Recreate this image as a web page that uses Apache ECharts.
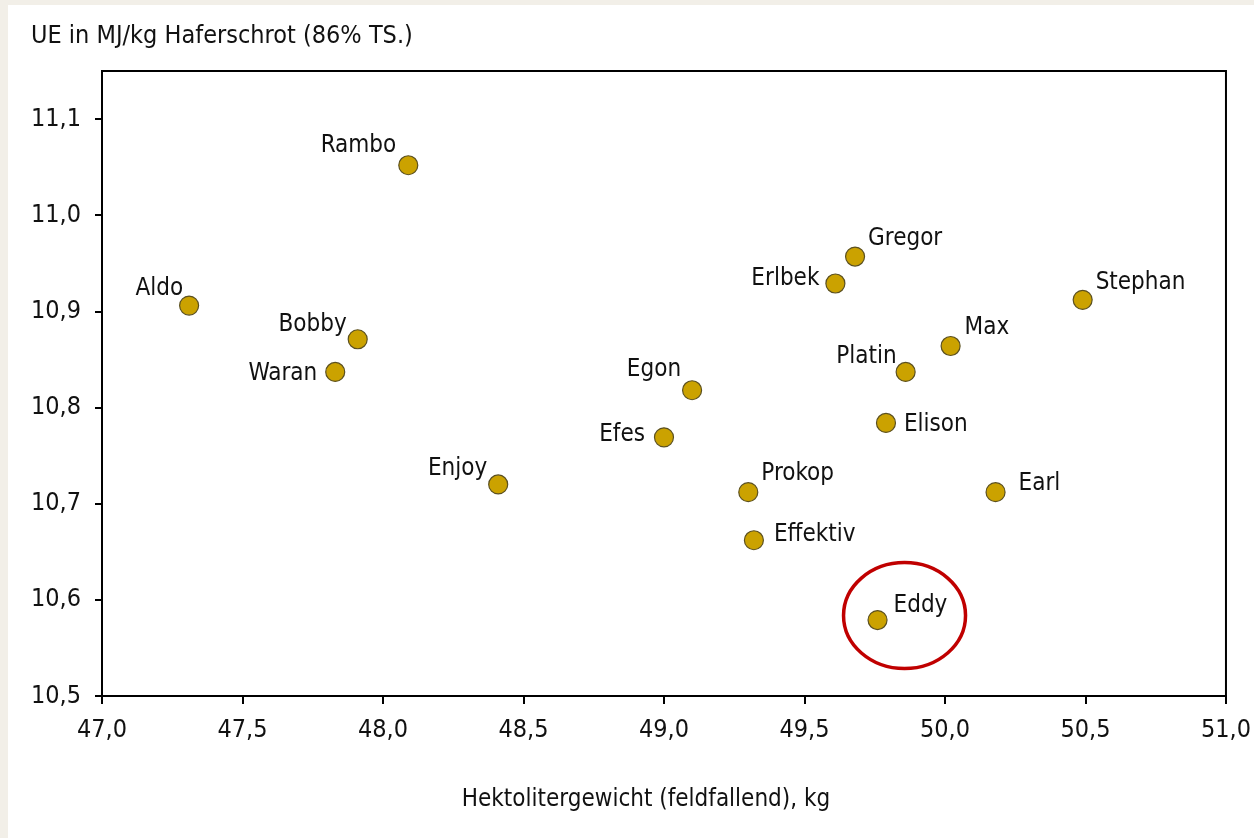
<!DOCTYPE html>
<html>
<head>
<meta charset="utf-8">
<script src="https://cdn.jsdelivr.net/npm/echarts@6/dist/echarts.min.js"></script>
<style>
	html, body { margin: 0; padding: 0; background: #f2efe8; }
	#chart { position: absolute; left: 8px; top: 5px; width: 1246px; height: 833px; background: #fff; }
</style>
</head>
<body>
<div id="chart"></div>
<script>
// Hafer-Sorten: Hektolitergewicht vs. UE
var names = ['Aldo', 'Rambo', 'Bobby', 'Waran', 'Enjoy', 'Efes', 'Egon', 'Prokop', 'Effektiv',
	'Eddy', 'Erlbek', 'Gregor', 'Platin', 'Max', 'Elison', 'Stephan', 'Earl']
var hlGewicht = [47.31, 48.09, 47.91, 47.83, 48.41, 49.00, 49.10, 49.30, 49.32,
	49.76, 49.61, 49.68, 49.86, 50.02, 49.79, 50.49, 50.18]
var ueWerte = [10.906, 11.052, 10.871, 10.837, 10.720, 10.769, 10.818, 10.712, 10.662,
	10.579, 10.929, 10.957, 10.837, 10.864, 10.784, 10.912, 10.712]
var xTicks = [47.0, 47.5, 48.0, 48.5, 49.0, 49.5, 50.0, 50.5, 51.0]
var yTicks = [10.5, 10.6, 10.7, 10.8, 10.9, 11.0, 11.1]

// where each label sits relative to its dot: side, dx, dy
var labelPlace = {
	Aldo: ['l', -6, -17], Rambo: ['l', -12, -19], Bobby: ['l', -11, -15], Waran: ['l', -18, 2],
	Enjoy: ['l', -11, -16], Efes: ['l', -19, -3], Egon: ['l', -11, -20], Prokop: ['r', 13, -18],
	Effektiv: ['r', 20, -5], Eddy: ['r', 16, -14], Erlbek: ['l', -16, -5], Gregor: ['r', 13, -18],
	Platin: ['l', -9, -15], Max: ['r', 14, -18], Elison: ['r', 18, 2], Stephan: ['r', 13, -17],
	Earl: ['r', 23, -8]
}

var FONT = '"DejaVu Sans Condensed", "DejaVu Sans", sans-serif'
var INK = '#111'

function komma (v) {
	return v.toFixed(1).replace('.', ',')
}

var points = names.map(function (n, i) {
	var p = labelPlace[n]
	return {
		name: n,
		value: [hlGewicht[i], ueWerte[i]],
		label: {
			position: 'inside',
			align: p[0] === 'l' ? 'right' : 'left',
			verticalAlign: 'middle',
			offset: [p[1], p[2]]
		}
	}
})

var chart = echarts.init(document.getElementById('chart'))

chart.setOption({
	animation: false,
	textStyle: { fontFamily: FONT },
	title: {
		text: 'UE in MJ/kg Haferschrot (86% TS.)',
		left: 23,
		top: 19,
		padding: 0,
		textStyle: { fontFamily: FONT, fontSize: 25, fontWeight: 'normal', color: INK }
	},
	grid: {
		left: 94,
		right: 28,
		top: 66,
		bottom: 142,
		show: true,
		borderColor: '#000',
		borderWidth: 2
	},
	xAxis: {
		type: 'value',
		min: 47,
		max: 51,
		interval: 0.5,
		name: 'Hektolitergewicht (feldfallend), kg',
		nameLocation: 'middle',
		nameGap: 92,
		nameTextStyle: { fontFamily: FONT, fontSize: 24, color: INK, padding: [0, 36, 0, 0] },
		axisLine: { lineStyle: { color: '#000', width: 2 } },
		axisTick: { show: true, length: 8, lineStyle: { color: '#000', width: 2 }, customValues: xTicks },
		axisLabel: { margin: 22, fontSize: 25, color: INK, customValues: xTicks, formatter: komma },
		splitLine: { show: false }
	},
	yAxis: {
		type: 'value',
		min: 10.5,
		max: 11.15,
		interval: 0.1,
		axisLine: { show: true, lineStyle: { color: '#000', width: 2 } },
		axisTick: { show: true, length: 7, lineStyle: { color: '#000', width: 2 }, customValues: yTicks },
		axisLabel: { margin: 21, fontSize: 25, color: INK, customValues: yTicks, formatter: komma },
		splitLine: { show: false }
	},
	series: [{
		type: 'scatter',
		symbolSize: 19,
		itemStyle: { color: '#CBA200', borderColor: '#5b5020', borderWidth: 1.2, opacity: 1 },
		label: {
			show: true,
			formatter: '{b}',
			fontFamily: FONT,
			fontSize: 24,
			color: INK
		},
		data: points
	}]
})

// red circle round Eddy
var iEddy = names.indexOf('Eddy')
var pe = chart.convertToPixel({ seriesIndex: 0 }, [hlGewicht[iEddy], ueWerte[iEddy]])
chart.setOption({
	graphic: [{
		type: 'ellipse',
		shape: { cx: pe[0] + 27, cy: pe[1] - 4.5, rx: 61, ry: 53 },
		style: { fill: 'none', stroke: '#C00000', lineWidth: 3.5 },
		z: 10
	}]
})
</script>
</body>
</html>
